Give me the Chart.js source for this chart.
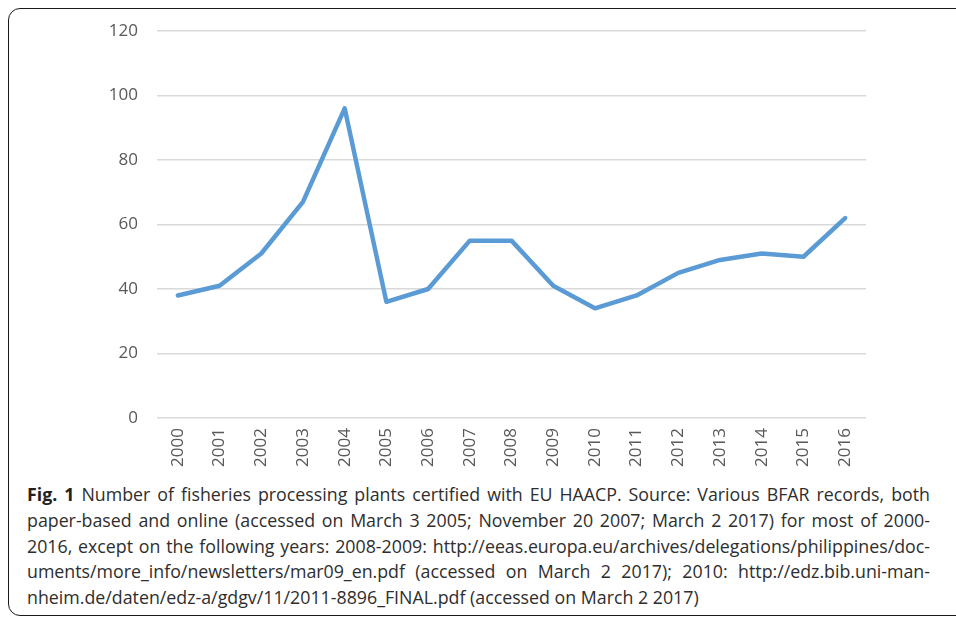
<!DOCTYPE html>
<html lang="en">
<head>
  <meta charset="UTF-8">
  <title>Fig. 1 – EU HAACP certified plants</title>
  <script src="https://cdn.jsdelivr.net/npm/chart.js"></script>
  <style>
    html, body { margin:0; padding:0; background:#fff; }
    body { width:956px; height:621px; position:relative; overflow:hidden;
           font-family:"Open Sans", sans-serif; }
    #frame { position:absolute; left:8px; top:8px; width:980px; height:608px;
             border:1.5px solid #1a1a1a; border-radius:12px; box-sizing:border-box; }
    #wrap { position:absolute; left:0; top:0; width:956px; height:468px; }
    #cap { position:absolute; left:27px; top:482px; width:903px;
           font-size:17.8px; line-height:25.8px; color:#2e2e2e; }
    #cap div { text-align:justify; text-align-last:justify; white-space:nowrap; }
    #cap div.last { text-align-last:left; }
    #cap b { color:#231f20; }
  </style>
</head>
<body>
  <div id="frame"></div>
  <div id="wrap"><canvas id="graf"></canvas></div>

  <div id="cap">
    <div><b>Fig. 1</b> Number of fisheries processing plants certified with EU HAACP. Source: Various BFAR records, both</div>
    <div>paper-based and online (accessed on March 3 2005; November 20 2007; March 2 2017) for most of 2000-</div>
    <div>2016, except on the following years: 2008-2009: http://eeas.europa.eu/archives/delegations/philippines/doc-</div>
    <div>uments/more_info/newsletters/mar09_en.pdf (accessed on March 2 2017); 2010: http://edz.bib.uni-man-</div>
    <div class="last">nheim.de/daten/edz-a/gdgv/11/2011-8896_FINAL.pdf (accessed on March 2 2017)</div>
  </div>

  <script>
    /* ---------- datos ---------- */
    const anios  = ['2000','2001','2002','2003','2004','2005','2006','2007','2008',
                    '2009','2010','2011','2012','2013','2014','2015','2016'];
    const plantas = [38, 41, 51, 67, 96, 36, 40, 55, 55, 41, 34, 38, 45, 49, 51, 50, 62];
    const ticksY  = [0, 20, 40, 60, 80, 100, 120];

    const gris = '#595959';
    const fuente = { family:'"Open Sans", sans-serif', size:17 };

    new Chart(document.getElementById('graf'), {
      type: 'line',
      data: {
        labels: anios,
        datasets: [{
          data: plantas,
          borderColor: '#5b9bd5',
          borderWidth: 4.5,
          borderCapStyle: 'round',
          borderJoinStyle: 'round',
          pointRadius: 0,
          tension: 0,
          fill: false
        }]
      },
      options: {
        responsive: true,
        maintainAspectRatio: false,
        animation: false,
        layout: { padding: { left: 97, right: 90, top: 31, bottom: 0 } },
        plugins: { legend: { display:false }, tooltip: { enabled:false } },
        scales: {
          x: {
            offset: true,
            grid: { display:false, drawTicks:false },
            border: { display:false },
            ticks: { color:gris, font:fuente, minRotation:90, maxRotation:90,
                     padding:10, autoSkip:false },
            afterFit: s => { s.height = 50; }
          },
          y: {
            min: 0, max: 120,
            afterBuildTicks: s => { s.ticks = ticksY.map(v => ({ value:v })); },
            grid: { color:'#d9d9d9', lineWidth:1.5, drawTicks:false },
            border: { display:false },
            ticks: { color:gris, font:fuente, padding:19 },
            afterFit: s => { s.width = 60; }
          }
        }
      }
    });
  </script>
</body>
</html>
